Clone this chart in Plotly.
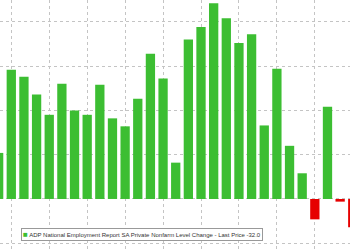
import plotly.graph_objects as go

months = ["May 2023", "Jun 2023", "Jul 2023", "Aug 2023", "Sep 2023", "Oct 2023", "Nov 2023",
          "Dec 2023", "Jan 2024", "Feb 2024", "Mar 2024", "Apr 2024", "May 2024", "Jun 2024",
          "Jul 2024", "Aug 2024", "Sep 2024", "Oct 2024", "Nov 2024", "Dec 2024", "Jan 2025",
          "Feb 2025", "Mar 2025", "Apr 2025", "May 2025", "Jun 2025", "Jul 2025", "Aug 2025",
          "Sep 2025"]
values = [52, 146, 138, 118, 95, 130, 100, 95, 129, 91, 82, 113, 164, 136, 41, 180, 194,
          221, 204, 176, 186, 83, 147, 60, 29, -23, 104, -3, -32]
series_name = "ADP National Employment Report SA Private Nonfarm Level Change - Last Price -32.0"

GREEN = "#3cbe32"
RED = "#e60000"
colors = [GREEN if v >= 0 else RED for v in values]
xs = list(range(len(values)))

fig = go.Figure()
fig.add_trace(go.Bar(
    x=xs, y=values, marker=dict(color=colors, line=dict(width=0)),
    width=0.735, hovertext=months, name=series_name, showlegend=False,
))

fig.update_layout(
    width=350, height=250,
    margin=dict(l=0, r=0, t=0, b=0),
    paper_bgcolor="white", plot_bgcolor="white",
    xaxis=dict(range=[0.107, 27.78], tick0=1, dtick=3, showticklabels=False,
               showgrid=True, gridcolor="#c4c4c4", griddash="dot", gridwidth=1,
               zeroline=False, ticks=""),
    yaxis=dict(range=[-57.6, 224.6], tick0=0, dtick=50, showticklabels=False,
               showgrid=True, gridcolor="#c4c4c4", griddash="dot", gridwidth=1,
               zeroline=False, ticks=""),
    annotations=[dict(
        x=0.06, y=(250 - 241) / 250, xref="paper", yref="paper",
        xanchor="left", yanchor="bottom", showarrow=False,
        text='<span style="color:%s;font-size:8px">■</span> %s' % (GREEN, series_name),
        font=dict(family="Liberation Sans, Arial", size=6, color="#333333"),
        bgcolor="white", bordercolor="#999999", borderwidth=1, borderpad=1,
        align="left",
    )],
)

fig.write_html("out.html")
